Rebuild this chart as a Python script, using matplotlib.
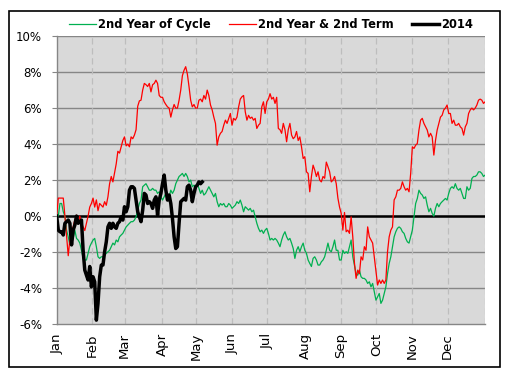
import numpy as np
import matplotlib
matplotlib.use("Agg")
import matplotlib.pyplot as plt
from matplotlib.patches import Rectangle
from matplotlib.ticker import FuncFormatter

# ----------------------------------------------------------------------
# Data (cumulative % change, read about once per trading day)
# ----------------------------------------------------------------------
months = ["Jan", "Feb", "Mar", "Apr", "May", "Jun",
          "Jul", "Aug", "Sep", "Oct", "Nov", "Dec"]
month_start_day = [0, 21, 40, 62, 82, 103, 124, 146, 167, 188, 209, 230]
trading_days = 252

# green
second_year_of_cycle = [
    0.0,
    0.0, 0.7, 0.7, 0.24, 0.0, -0.78, -1.15, -1.6, -1.5, -1.24, -0.78, -1.24,
    -1.33, -1.5, -1.9, -2.35, -2.44, -2.44, -2.07, -1.7, -1.5, -1.33, -1.24, -1.7,
    -2.26, -2.35, -2.26, -2.26, -2.17, -2.07, -1.98, -1.9, -1.7, -1.5, -1.6, -1.33,
    -1.43, -1.15, -1.05, -0.96, -0.78, -0.6, -0.5, -0.4, -0.31, -0.31, -0.22, -0.04,
    0.33, 0.7,
    0.89, 1.63, 1.72, 1.8, 1.63, 1.44, 1.44, 1.54, 1.44, 1.44, 1.26, 1.35, 1.07,
    0.89, 1.07, 1.26, 1.17, 1.07, 1.44, 1.26, 1.44, 1.8, 2.0, 2.2, 2.28, 2.37,
    2.2, 2.37, 2.2, 1.9, 2.0, 1.63, 1.72, 1.63, 1.8, 1.54, 1.26, 1.44, 1.17,
    1.26, 1.44, 1.63, 1.44, 1.26, 1.07, 1.26, 0.8, 0.52, 0.7, 0.61, 0.7, 0.52,
    0.52, 0.7, 0.61, 0.43, 0.52, 0.61, 0.8, 0.7, 0.89, 0.61, 0.24, 0.52, 0.43,
    0.33, 0.43, 0.24, 0.33, -0.04, -0.4, -0.68, -0.87, -0.78, -0.96, -0.78, -0.68,
    -0.96, -1.33, -1.24, -1.33, -1.24, -1.33, -1.5, -1.7, -1.33, -1.05, -0.87, -1.15,
    -1.33, -1.24, -1.5, -1.8, -2.35, -1.9, -1.7, -1.98, -1.7, -1.5, -1.9, -2.07,
    -2.44, -2.63, -2.8,
    -2.35, -2.26, -2.44, -2.72, -2.72, -2.54, -2.44, -2.26, -1.9, -1.5, -1.9, -1.98,
    -1.7, -1.33, -1.9, -1.9, -2.44, -2.44, -1.9, -2.07, -1.98, -2.07, -1.7, -1.33,
    -2.26, -2.72, -3.2, -3.28, -3.0, -3.37, -3.46, -3.46, -3.55, -3.74, -3.65, -3.93,
    -3.74, -4.2, -4.67, -4.48, -4.3, -4.85, -4.67, -4.3, -3.93, -3.2, -2.63, -2.26,
    -1.7, -1.15, -0.87, -0.68,
    -0.6, -0.68, -0.87, -0.96, -1.24, -1.43, -1.5, -1.15, -0.78, -0.04, 0.7, 0.98,
    1.44, 1.26, 1.17, 0.98, 1.07, 0.61, 0.24, 0.43, 0.15, 0.0, 0.43, 0.7,
    0.52, 0.7, 0.8, 0.89, 0.98, 0.89, 1.26, 1.54, 1.63, 1.54, 1.8, 1.54,
    1.44, 1.54, 1.26, 0.98, 0.98, 1.63, 1.44, 1.54, 2.09, 2.2, 2.2, 2.28,
    2.46, 2.46, 2.37, 2.2, 2.28,
]

# red
second_year_second_term = [
    0.0,
    1.0, 1.0, 1.0, 1.0, 0.0, -1.1, -2.2, -1.3, -0.8, -0.6, -0.2, 0.05, -0.4,
    0.0, -0.4, -0.6, -0.8, -0.4, 0.0, 0.5, 0.7, 1.0, 0.5, 0.9, 0.3, 0.7,
    0.6, 0.5, 0.8, 0.6, 1.07, 1.8, 2.2, 1.9, 2.4, 2.9, 3.6, 3.5, 3.85, 4.2,
    4.4, 3.9, 4.0, 3.85, 4.4, 4.3, 4.5, 4.8, 6.1, 6.4,
    6.44, 7.0, 7.37, 7.3, 7.2, 7.37, 6.9, 7.3, 7.37, 7.55, 7.37, 6.7, 6.6,
    6.6, 6.35, 6.2, 6.07, 6.0, 5.5, 5.9, 6.2, 6.0, 6.0, 6.44, 7.0, 7.8,
    8.1, 8.3, 7.9, 7.2, 6.44, 6.07, 6.2, 6.0, 6.0, 6.44, 6.5, 6.35, 6.7,
    6.5, 7.0, 6.7, 6.17, 5.9, 5.5, 5.15, 3.94, 4.4, 4.6, 4.7, 5.05, 5.33,
    5.15, 5.43, 5.7, 5.05, 5.43, 5.33, 5.5, 6.07, 6.5, 6.63, 6.7, 5.8, 5.33,
    5.6, 5.43, 5.5, 5.33, 5.43, 4.87, 5.05, 5.15, 6.07, 6.35, 5.7, 6.35, 6.5,
    6.8, 6.5, 6.6, 6.26, 6.6, 4.87, 4.8, 4.6, 5.15, 4.8, 4.13, 4.8, 5.15,
    4.5, 4.3, 4.4, 4.7, 4.2, 4.4, 3.85, 3.2, 3.3, 2.46, 2.37, 1.35, 2.2,
    2.83, 2.56, 2.2, 2.46, 2.0, 1.9, 2.2, 2.1, 3.0, 2.74, 2.46, 1.9, 2.0,
    2.2, 1.8, 1.0, 0.5, 0.15, -0.78, 0.2, -0.87, -0.78, -0.96, -0.04, -1.15,
    -2.6, -3.46, -3.0, -3.2, -2.26, -2.44, -1.7, -1.9, -0.6, -1.15, -1.33, -1.5,
    -2.26, -3.0, -3.83, -3.55, -3.74, -3.55, -3.74, -3.55, -1.98, -1.15, -0.78, -0.6,
    0.9, 1.07, 1.44,
    1.44, 1.54, 1.9, 1.63, 1.44, 1.54, 1.35, 2.37, 3.85, 3.76, 3.94, 4.03,
    4.78, 5.33, 5.43, 5.15, 4.96, 4.78, 4.4, 4.6, 4.4, 3.39, 4.2, 4.78,
    5.15, 5.5, 5.6, 5.9, 6.0, 6.17, 5.7, 5.7, 5.15, 5.33, 5.05, 5.05,
    5.15, 4.96, 4.87, 4.5, 4.96, 5.15, 5.7, 5.9, 6.0, 5.9, 6.0, 6.17,
    6.44, 6.5, 6.44, 6.26, 6.35,
]

# black, year to date
year_2014 = [
    0.0,
    -0.78, -0.87, -0.87, -1.05, -0.4, -0.31, -0.22, -0.4, -1.6, -0.78, -0.5, 0.0,
    -0.4, -0.31, -0.22, -1.9, -3.0, -3.28, -3.55, -2.8, -3.93, -3.37, -3.65, -5.78,
    -4.85, -3.37, -2.72, -2.72, -1.98, -1.43, -0.6, -0.4, -0.68, -0.4, -0.6, -0.68,
    -0.4, -0.31, -0.04, -0.22, 0.52, 0.24, 0.52, 1.44, 1.63, 1.63, 1.54, 0.89,
    0.24, -0.04,
    -0.31, 0.33, 1.26, 1.17, 0.7, 0.8, 0.7, 0.43, 0.89, 1.07, 0.06, 0.89, 1.26,
    1.8, 2.28, 1.44, 0.89, 1.17, 0.7, -0.13, -1.15, -1.8, -1.7, -0.4, 0.8, 0.89,
    0.98, 0.89, 1.63, 1.72, 1.44, 0.8, 1.26, 1.63, 1.72, 1.9, 1.8, 1.9,
]

# ----------------------------------------------------------------------
# Figure
# ----------------------------------------------------------------------
plt.rcParams["font.family"] = ["DejaVu Sans"]

fig = plt.figure(figsize=(5.15, 3.84), dpi=100)
ax = fig.add_axes([0.110, 0.156, 0.832, 0.750])
ax.set_facecolor("#d9d9d9")

day_step = trading_days / (len(second_year_of_cycle) - 1)
x_green = np.arange(len(second_year_of_cycle)) * day_step
x_red = np.linspace(0, trading_days, len(second_year_second_term))
x_black = np.arange(len(year_2014)) * day_step

# grid
for v in range(-4, 11, 2):
    ax.axhline(v, color="#868686", lw=1.0, zorder=1)
for d in month_start_day[1:] + [trading_days]:
    ax.axvline(d, color="#bdbdbd", lw=0.9, dashes=(5, 3), zorder=1)
ax.axhline(0, color="black", lw=1.8, zorder=2)

ax.plot(x_green, second_year_of_cycle, color="#00b050", lw=0.9,
        label="2nd Year of Cycle", zorder=3)
ax.plot(x_red, second_year_second_term, color="#ff0000", lw=0.9,
        label="2nd Year & 2nd Term", zorder=3)
ax.plot(x_black, year_2014, color="black", lw=2.5,
        label="2014", zorder=4)

ax.set_xlim(0, trading_days)
ax.set_ylim(-6, 10)
ax.set_yticks(range(-6, 11, 2))
ax.yaxis.set_major_formatter(FuncFormatter(lambda v, p: f"{v:.0f}%"))
ax.set_xticks(month_start_day)
ax.set_xticklabels(months, rotation=90, fontsize=9.5)
ax.tick_params(axis="x", length=0, pad=6.5)
ax.tick_params(axis="y", length=3.6, width=0.8, color="#868686",
               labelsize=8.5, pad=7)

for side in ["top", "right"]:
    ax.spines[side].set_visible(False)
for side in ["left", "bottom"]:
    ax.spines[side].set_color("#868686")
    ax.spines[side].set_linewidth(1.0)

leg = ax.legend(loc="center", bbox_to_anchor=(0.526, 0.935),
                bbox_transform=fig.transFigure, ncol=3, frameon=False,
                handlelength=2.35, handletextpad=0.2, columnspacing=1.55,
                prop={"weight": "bold", "size": 8.3})

# chart frame
fig.patches.append(Rectangle((0.0175, 0.044), 0.953, 0.927, fill=False,
                             edgecolor="black", lw=1.2,
                             transform=fig.transFigure, figure=fig))

fig.savefig("out.png", dpi=100)
